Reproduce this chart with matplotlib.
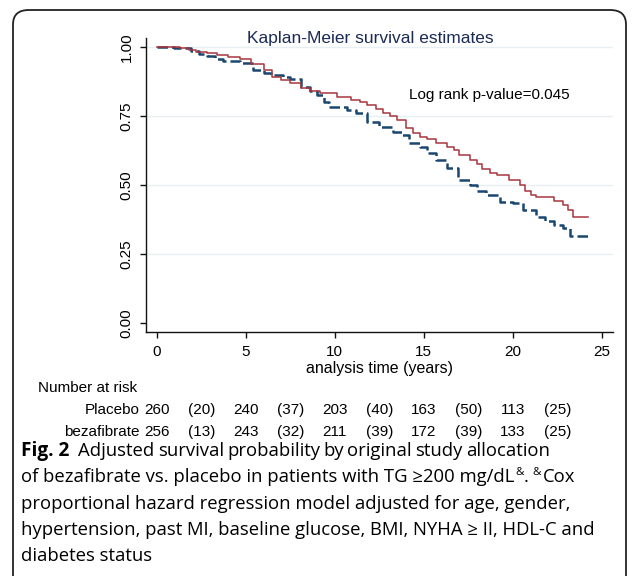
import matplotlib
matplotlib.use("Agg")
import matplotlib.pyplot as plt
from matplotlib import font_manager
from matplotlib.patches import FancyBboxPatch

# ---------------- data ----------------
beza_t = [0, 1.3, 1.8, 2.2, 2.8, 3.4, 4.0, 4.7, 5.3, 6.0, 6.5, 7.0, 7.5, 8.1, 8.6, 9.2,
          10.1, 10.9, 11.4, 11.8, 12.3, 12.7, 13.1, 13.5, 14.0, 14.4, 14.8, 15.2, 15.7,
          16.3, 16.7, 17.0, 17.6, 18.0, 18.3, 18.7, 19.1, 19.8, 20.4, 20.7, 21.0, 21.3,
          22.3, 22.8, 23.1, 23.4, 24.2]
beza_s = [1.0, 0.995, 0.99, 0.983, 0.977, 0.971, 0.963, 0.955, 0.94, 0.917, 0.892, 0.88,
          0.871, 0.85, 0.842, 0.834, 0.820, 0.808, 0.80, 0.79, 0.775, 0.761, 0.75, 0.736,
          0.706, 0.69, 0.675, 0.665, 0.652, 0.636, 0.625, 0.609, 0.591, 0.575, 0.557,
          0.545, 0.536, 0.518, 0.500, 0.48, 0.464, 0.455, 0.443, 0.428, 0.409, 0.385, 0.385]
plac_t = [0, 1.0, 1.9, 2.4, 2.8, 3.3, 3.7, 4.7, 5.4, 6.0, 6.4, 7.1, 7.5, 8.1, 8.6, 9.0,
          9.4, 9.7, 10.7, 11.2, 11.8, 12.5, 13.3, 13.8, 14.2, 14.8, 15.2, 15.7, 16.3,
          16.9, 17.6, 18.0, 18.5, 19.3, 20.0, 20.6, 21.3, 21.8, 22.3, 22.8, 23.2, 24.2]
plac_s = [1.0, 0.995, 0.986, 0.975, 0.967, 0.958, 0.950, 0.941, 0.917, 0.907, 0.899, 0.89,
          0.884, 0.854, 0.84, 0.826, 0.80, 0.784, 0.772, 0.761, 0.729, 0.711, 0.693, 0.681,
          0.651, 0.639, 0.616, 0.591, 0.560, 0.518, 0.500, 0.48, 0.464, 0.440, 0.436,
          0.409, 0.385, 0.37, 0.355, 0.343, 0.315, 0.315]

xticks = [0, 5, 10, 15, 20, 25]
yticks = [0.0, 0.25, 0.5, 0.75, 1.0]
ytick_labels = ["0.00", "0.25", "0.50", "0.75", "1.00"]
risk_times = [0, 2.5, 5, 7.5, 10, 12.5, 15, 17.5, 20, 22.5]
risk_groups = ["Placebo", "bezafibrate"]
risk_placebo = ["260", "(20)", "240", "(37)", "203", "(40)", "163", "(50)", "113", "(25)"]
risk_beza = ["256", "(13)", "243", "(32)", "211", "(39)", "172", "(39)", "133", "(25)"]

title = "Kaplan-Meier survival estimates"
xlabel = "analysis time (years)"
pval_text = "Log rank p-value=0.045"

# ---------------- fonts ----------------
avail = {f.name for f in font_manager.fontManager.ttflist}
stata_font = "Liberation Sans Narrow" if "Liberation Sans Narrow" in avail else "Liberation Sans"
cap_font = ["Open Sans", "DejaVu Sans"]

W, H = 634, 576
fig = plt.figure(figsize=(W / 100, H / 100), dpi=100)
fig.patch.set_facecolor("white")

def fx(px):
    return px / W

def fy(py):
    return 1 - py / H

# outer rounded frame
frame = FancyBboxPatch((fx(13), fy(600)), fx(613), (600 - 10) / H,
                       boxstyle="round,pad=0,rounding_size=0.025",
                       transform=fig.transFigure, fill=False, lw=1.3,
                       ec="#222222", clip_on=False)
fig.patches.append(frame)

# axes
ax_left, ax_right, ax_bottom_px, ax_top_px = 146, 613, 332, 38
ax = fig.add_axes([fx(ax_left), fy(ax_bottom_px), fx(ax_right - ax_left),
                   (ax_bottom_px - ax_top_px) / H])
ax.set_xlim(-0.6, 25.63)
ax.set_ylim(-0.0326, 1.0326)
for sp in ["top", "right"]:
    ax.spines[sp].set_visible(False)
for sp in ["left", "bottom"]:
    ax.spines[sp].set_linewidth(1.0)
    ax.spines[sp].set_color("#111111")

for yv in yticks[1:]:
    ax.axhline(yv, color="#E6F0F2", lw=1.0, zorder=0)

ax.step(plac_t, plac_s, where="post", color="#1A476F", lw=1.8,
        dashes=(4.2, 1.6), zorder=3)
ax.step(beza_t, beza_s, where="post", color="#A8353F", lw=1.1, zorder=4)

ax.set_xticks(xticks)
ax.set_xticklabels([str(v) for v in xticks], fontsize=11, family=stata_font)
ax.set_yticks(yticks)
ax.set_yticklabels(ytick_labels, fontsize=11, family=stata_font, rotation=90,
                   va="center")
ax.tick_params(axis="both", direction="out", length=4, width=1.0, color="#111111",
               pad=5)
ax.set_xlabel(xlabel, fontsize=11.5, family=stata_font, labelpad=2)

ax.text(18.7, 0.826, pval_text, fontsize=11, family=stata_font, ha="center",
        va="center")
fig.text(fx(370), fy(39), title, fontsize=12.5, family=stata_font, ha="center",
         va="center", color="#1C2B55")

# number at risk table
def xdata_to_px(t):
    return ax_left + (t - (-0.6)) / (25.63 + 0.6) * (ax_right - ax_left)

fig.text(fx(38), fy(388), "Number at risk", fontsize=11, family=stata_font,
         ha="left", va="center")
for row_y, grp, vals in [(410, risk_groups[0], risk_placebo),
                         (432, risk_groups[1], risk_beza)]:
    fig.text(fx(140), fy(row_y), grp, fontsize=11, family=stata_font,
             ha="right", va="center")
    for t, v in zip(risk_times, vals):
        fig.text(fx(xdata_to_px(t)), fy(row_y), v, fontsize=11, family=stata_font,
                 ha="center", va="center")

# caption
fig.canvas.draw()
renderer = fig.canvas.get_renderer()
cap_size = 13.3

def runs(x0, ybase, pieces):
    x = x0
    for s, kw, dy, gap in pieces:
        t = fig.text(fx(x), fy(ybase + dy), s, ha="left", va="baseline",
                     family=cap_font, **kw)
        bb = t.get_window_extent(renderer)
        x += bb.width + gap
    return x

def justified(x0, x1, ybase, first, first_kw, words, kw):
    t = fig.text(fx(x0), fy(ybase), first, ha="left", va="baseline",
                 family=cap_font, **first_kw)
    x = x0 + t.get_window_extent(renderer).width + 9
    objs = []
    widths = []
    for w in words:
        o = fig.text(0, 0, w, ha="left", va="baseline", family=cap_font, **kw)
        objs.append(o)
        widths.append(o.get_window_extent(renderer).width)
    gap = (x1 - x - sum(widths)) / (len(words) - 1)
    for o, wd in zip(objs, widths):
        o.set_position((fx(x), fy(ybase)))
        x += wd + gap

base0 = 456
lh = 26.3
justified(21, 550, base0, "Fig. 2", dict(fontsize=cap_size + 0.4, weight="bold"),
          "Adjusted survival probability by original study allocation".split(),
          dict(fontsize=cap_size))
runs(21, base0 + lh, [("of bezafibrate vs. placebo in patients with TG \u2265200 mg/dL",
                       dict(fontsize=cap_size), 0, 0.5),
                      ("&", dict(fontsize=cap_size * 0.62), -7.5, 0.5),
                      (".", dict(fontsize=cap_size), 0, 4),
                      ("&", dict(fontsize=cap_size * 0.62), -7.5, 2),
                      ("Cox", dict(fontsize=cap_size), 0, 0)])
runs(21, base0 + 2 * lh, [("proportional hazard regression model adjusted for age, gender,",
                           dict(fontsize=cap_size), 0, 0)])
runs(21, base0 + 3 * lh, [("hypertension, past MI, baseline glucose, BMI, NYHA \u2265 II, HDL-C and",
                           dict(fontsize=cap_size), 0, 0)])
runs(21, base0 + 4 * lh, [("diabetes status", dict(fontsize=cap_size), 0, 0)])

fig.savefig("out.png", dpi=100, facecolor="white")
